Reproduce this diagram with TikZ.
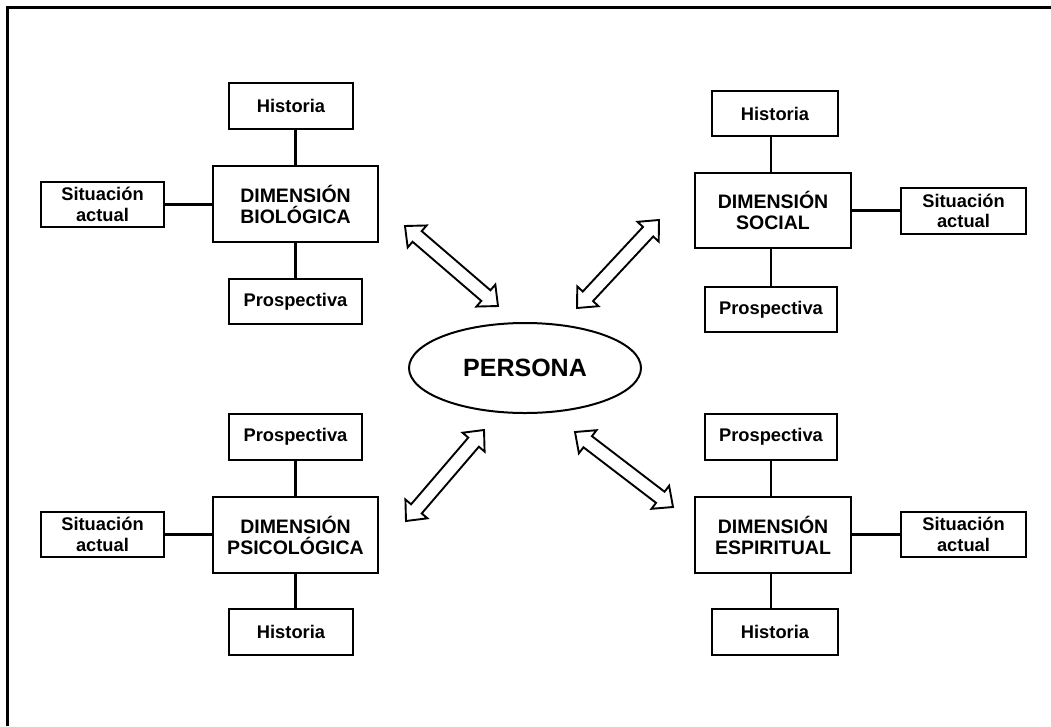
\documentclass[tikz,border=0pt]{standalone}
\usepackage{fontspec}
\setmainfont{Liberation Sans}
\usetikzlibrary{calc,shapes.geometric}

\tikzset{
  box/.style={draw, line width=2.7pt, fill=white, inner sep=0pt, align=center,
    font=\fontsize{18.3}{20.5}\selectfont\bfseries},
  dimbox/.style={box, font=\fontsize{19.5}{21}\selectfont\bfseries},
  link/.style={line width=2.8pt},
  hub/.style={draw, ellipse, line width=2pt, inner sep=0pt,
    minimum width=232pt, minimum height=90pt, font=\fontsize{25}{28}\selectfont\bfseries},
  twowayline/.style={draw, fill=white, line width=1.9pt, line join=miter},
  frameline/.style={line width=3pt}
}

% hollow double-headed block arrow between two named points
\newcommand\headlen{16pt}
\newcommand\headw{14.5pt}
\newcommand\shaftw{7pt}
\newcommand\twoway[2]{%
  \path ($(#1)!\headlen!(#2)$) coordinate (p1)
        ($(#2)!\headlen!(#1)$) coordinate (p2);
  \path[twowayline] (#1)
     -- ($(p1)!\headw!90:(#2)$) -- ($(p1)!\shaftw!90:(#2)$)
     -- ($(p2)!\shaftw!-90:(#1)$) -- ($(p2)!\headw!-90:(#1)$)
     -- (#2)
     -- ($(p2)!\headw!90:(#1)$) -- ($(p2)!\shaftw!90:(#1)$)
     -- ($(p1)!\shaftw!-90:(#2)$) -- ($(p1)!\headw!-90:(#2)$)
     -- cycle;}

\begin{document}
\begin{tikzpicture}[x=1pt,y=-1pt]
\useasboundingbox (0,0) rectangle (1051,726);

% page frame (top and left edges)
\draw[frameline] (7.5,726) -- (7.5,7.5) -- (1051,7.5);

% central node
\node[hub] (persona) at (525,368) {PERSONA};

% biological dimension
\node[dimbox, minimum width=165pt, minimum height=76pt] (bd) at (295.5,204) {DIMENSIÓN\\BIOLÓGICA};
\node[box, minimum width=124pt, minimum height=46pt] (bh) at (291,106) {Historia};
\node[box, minimum width=123pt, minimum height=45pt] (bs) at (102.5,204.5) {Situación\\actual};
\node[box, minimum width=133pt, minimum height=45pt] (bp) at (295.5,301.5) {Prospectiva};
\draw[link] (bd.north) -- (bd.north |- bh.south);
\draw[link] (bd.south) -- (bp.north);
\draw[link] (bs.east) -- (bs.east -| bd.west);

% social dimension
\node[dimbox, minimum width=156pt, minimum height=75pt] (sd) at (773,210.5) {DIMENSIÓN\\SOCIAL};
\node[box, minimum width=126pt, minimum height=45pt] (sh) at (775,113.5) {Historia};
\node[box, minimum width=125pt, minimum height=46pt] (ss) at (963.5,211) {Situación\\actual};
\node[box, minimum width=132pt, minimum height=45pt] (sp) at (771,309.5) {Prospectiva};
\draw[link] (sp.north |- sd.north) -- (sp.north |- sh.south);
\draw[link] (sp.north |- sd.south) -- (sp.north);
\draw[link] (sd.east) -- (sd.east -| ss.west);

% psychological dimension
\node[dimbox, minimum width=165pt, minimum height=76pt] (pd) at (295.5,535) {DIMENSIÓN\\PSICOLÓGICA};
\node[box, minimum width=133pt, minimum height=46pt] (pp) at (295.5,437) {Prospectiva};
\node[box, minimum width=123pt, minimum height=45pt] (ps) at (102.5,534.5) {Situación\\actual};
\node[box, minimum width=124pt, minimum height=46pt] (ph) at (291,632) {Historia};
\draw[link] (pd.north) -- (pp.south);
\draw[link] (pd.south) -- (pd.south |- ph.north);
\draw[link] (ps.east) -- (ps.east -| pd.west);

% spiritual dimension
\node[dimbox, minimum width=156pt, minimum height=76pt] (ed) at (773,535) {DIMENSIÓN\\ESPIRITUAL};
\node[box, minimum width=132pt, minimum height=46pt] (ep) at (771,437) {Prospectiva};
\node[box, minimum width=125pt, minimum height=45pt] (es) at (963.5,534.5) {Situación\\actual};
\node[box, minimum width=126pt, minimum height=46pt] (eh) at (775,632) {Historia};
\draw[link] (ep.south |- ed.north) -- (ep.south);
\draw[link] (ep.south |- ed.south) -- (ep.south |- eh.north);
\draw[link] (es.west) -- (es.west -| ed.east);

% two-way arrows around the central node
\coordinate (ula) at (405,226);  \coordinate (ulb) at (498,306);
\coordinate (ura) at (659,220);  \coordinate (urb) at (577,308);
\coordinate (lla) at (484,430);  \coordinate (llb) at (406,521);
\coordinate (lra) at (575,432);  \coordinate (lrb) at (673,507);
\twoway{ula}{ulb}
\twoway{ura}{urb}
\twoway{lla}{llb}
\twoway{lra}{lrb}
\end{tikzpicture}
\end{document}
